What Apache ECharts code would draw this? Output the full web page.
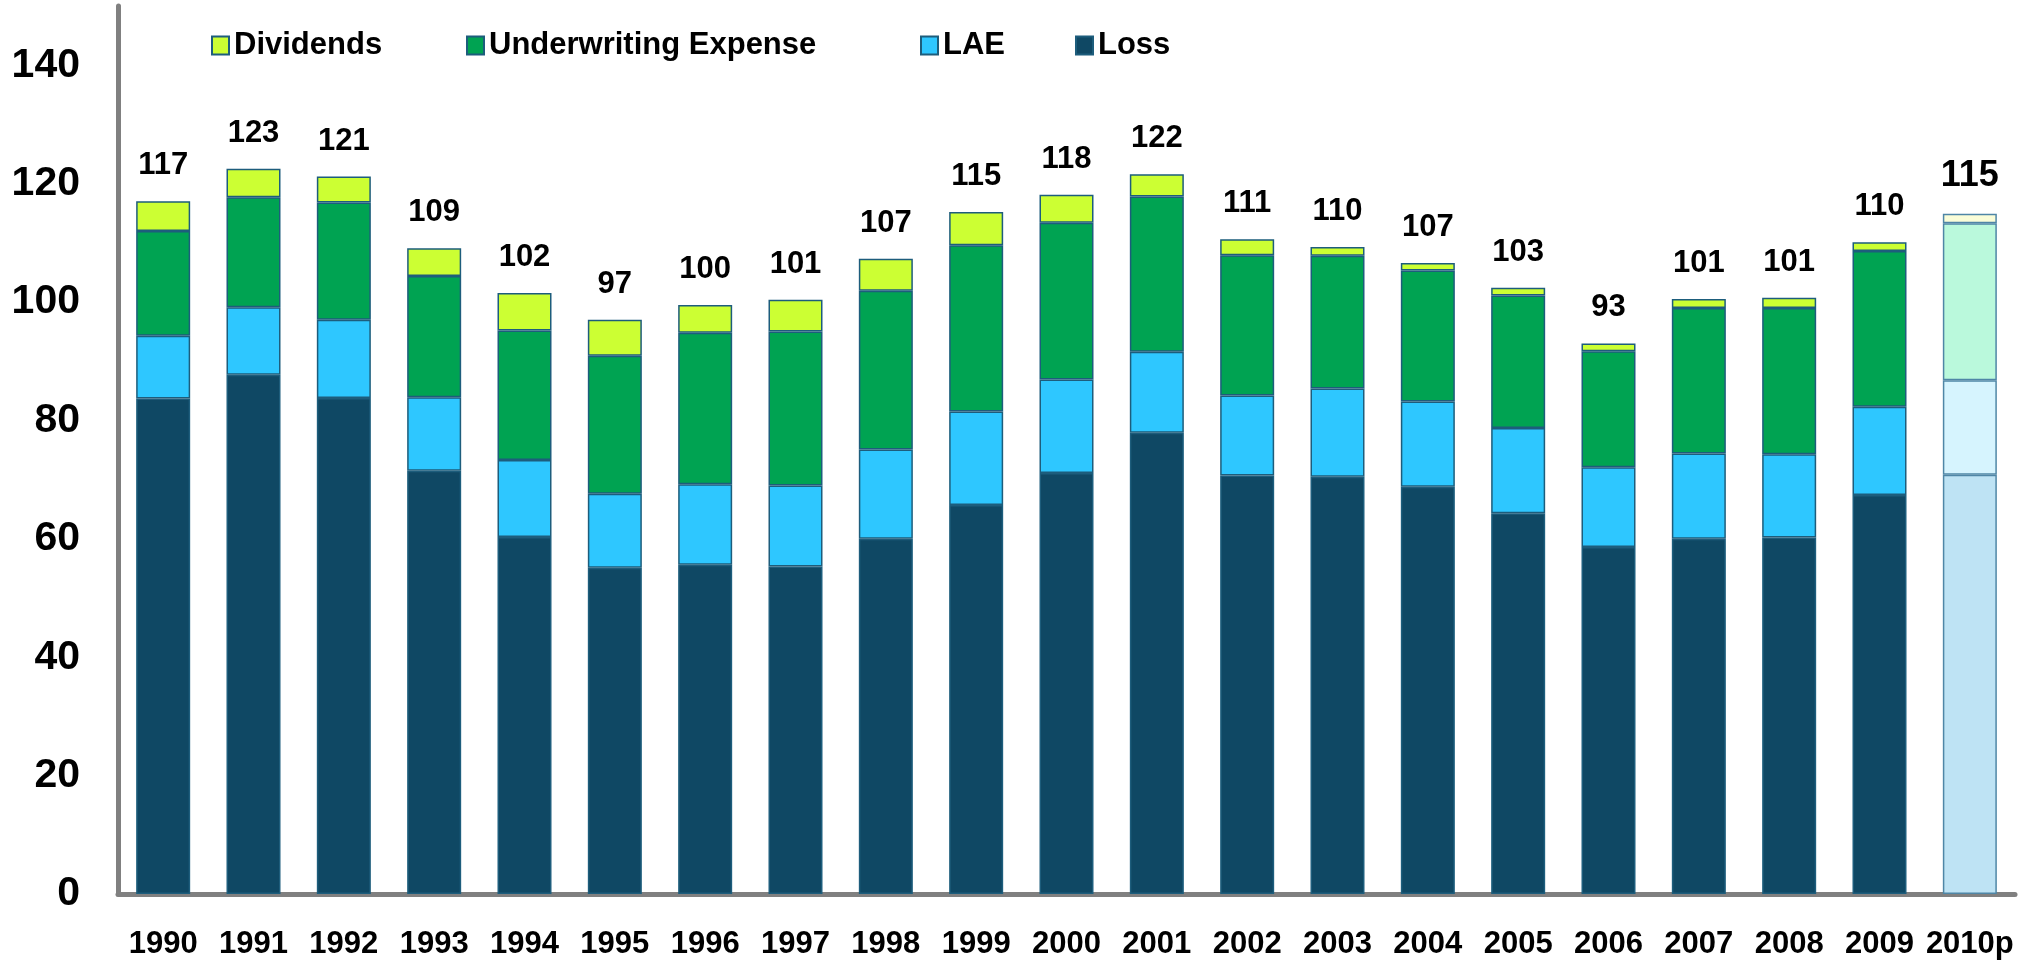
<!DOCTYPE html>
<html>
<head>
<meta charset="utf-8">
<title>Combined ratio components</title>
<script src="https://cdn.jsdelivr.net/npm/echarts@6/dist/echarts.min.js"></script>
<style>
  html, body { margin: 0; padding: 0; background: #fff; }
  #chart { width: 2023px; height: 961px; }
</style>
</head>
<body>
<div id="chart"></div>
<script>
// 数据
var years = ['1990', '1991', '1992', '1993', '1994', '1995', '1996', '1997', '1998', '1999', '2000',
             '2001', '2002', '2003', '2004', '2005', '2006', '2007', '2008', '2009', '2010p'];
var loss = [83.7, 87.7, 83.8, 71.5, 60.3, 55.1, 55.6, 55.3, 60.0, 65.7, 71.1,
            77.9, 70.7, 70.5, 68.8, 64.3, 58.6, 60.0, 60.2, 67.4, 70.8];
var lae = [10.6, 11.4, 13.2, 12.4, 13.0, 12.5, 13.6, 13.7, 15.1, 15.8, 15.8,
           13.7, 13.5, 14.9, 14.4, 14.4, 13.5, 14.4, 14.1, 14.9, 16.0];
var underwriting = [17.7, 18.6, 19.8, 20.5, 21.9, 23.3, 25.6, 26.0, 26.8, 28.1, 26.5,
                    26.2, 23.7, 22.4, 22.1, 22.4, 19.6, 24.6, 24.7, 26.3, 26.5];
var dividends = [5.0, 4.8, 4.4, 4.7, 6.3, 6.1, 4.7, 5.4, 5.4, 5.6, 4.7,
                 3.8, 2.7, 1.5, 1.3, 1.3, 1.3, 1.5, 1.7, 1.5, 1.6];
var totals = ['117', '123', '121', '109', '102', '97', '100', '101', '107', '115', '118',
              '122', '111', '110', '107', '103', '93', '101', '101', '110', '115'];

var colors = {
    'Loss': '#0F4864',
    'LAE': '#2EC7FF',
    'Underwriting Expense': '#00A352',
    'Dividends': '#CCFF33'
};
// 2010p 预测值颜色较浅
var projColors = {
    'Loss': '#BEE3F4',
    'LAE': '#D6F4FE',
    'Underwriting Expense': '#BAF9DC',
    'Dividends': '#FAFDD8'
};
var lastIdx = years.length - 1;

function makeData(name, arr) {
    return arr.map(function (v, i) {
        if (i === lastIdx) {
            return { value: v, itemStyle: { color: projColors[name], borderColor: '#4F86A6' } };
        }
        return v;
    });
}

function makeSeries(name, arr) {
    var s = {
        name: name,
        type: 'bar',
        stack: 'total',
        barWidth: 54,
        data: makeData(name, arr),
        itemStyle: { color: colors[name], borderColor: '#1D5D7C', borderWidth: 1.5 },
        emphasis: { disabled: true }
    };
    if (name === 'Dividends') {
        s.label = {
            show: true,
            position: 'top',
            distance: 20,
            color: '#000',
            fontFamily: 'Liberation Sans',
            fontWeight: 'bold',
            fontSize: 31,
            formatter: function (p) {
                if (p.dataIndex === lastIdx) return '{p|' + totals[p.dataIndex] + '}';
                return totals[p.dataIndex];
            },
            rich: {
                p: { fontFamily: 'Liberation Sans', fontWeight: 'bold', fontSize: 36, color: '#000' }
            }
        };
    }
    return s;
}

var legendText = { color: '#000', fontFamily: 'Liberation Sans', fontWeight: 'bold', fontSize: 31 };
function oneLegend(name, left) {
    return {
        data: [{ name: name, icon: 'rect' }],
        left: left,
        top: 25,
        itemWidth: 17,
        itemHeight: 18,
        itemGap: 6,
        textStyle: legendText,
        selectedMode: false
    };
}

var myChart = echarts.init(document.getElementById('chart'));

var option = {
    backgroundColor: '#fff',
    animation: false,
    legend: [
        oneLegend('Dividends', 206),
        oneLegend('Underwriting Expense', 461),
        oneLegend('LAE', 915),
        oneLegend('Loss', 1070)
    ],
    grid: { left: 118, right: 8, top: 6, bottom: 67, containLabel: false },
    xAxis: {
        type: 'category',
        data: years,
        axisLine: { lineStyle: { color: '#808080', width: 5 } },
        axisTick: { show: false },
        axisLabel: {
            margin: 35,
            color: '#000',
            fontFamily: 'Liberation Sans',
            fontWeight: 'bold',
            fontSize: 31,
            interval: 0
        }
    },
    yAxis: {
        type: 'value',
        min: 0,
        max: 150,
        interval: 20,
        splitLine: { show: false },
        axisTick: { show: false },
        axisLine: { show: true, lineStyle: { color: '#808080', width: 5 } },
        axisLabel: {
            showMaxLabel: false,
            margin: 38,
            color: '#000',
            fontFamily: 'Liberation Sans',
            fontWeight: 'bold',
            fontSize: 41
        }
    },
    series: [
        makeSeries('Loss', loss),
        makeSeries('LAE', lae),
        makeSeries('Underwriting Expense', underwriting),
        makeSeries('Dividends', dividends)
    ]
};

myChart.setOption(option);
</script>
</body>
</html>
